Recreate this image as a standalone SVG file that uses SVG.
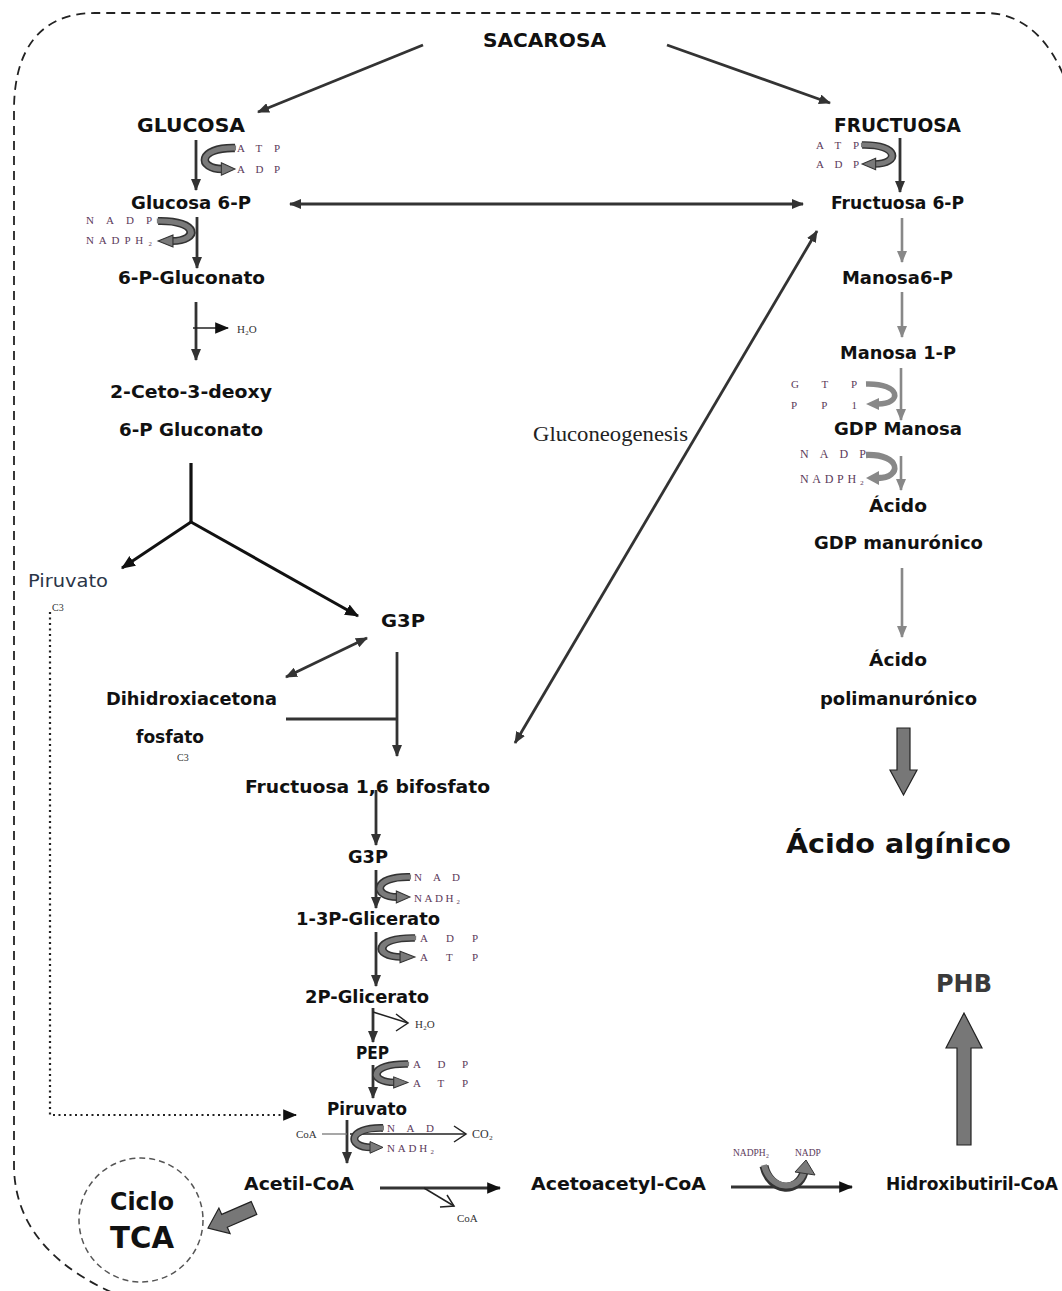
<svg xmlns="http://www.w3.org/2000/svg" xmlns:xlink="http://www.w3.org/1999/xlink" width="1062" height="1291" viewBox="0 0 1062 1291">
<style>
.n{font-family:"DejaVu Sans","Liberation Sans",sans-serif;font-weight:bold;font-size:17px;fill:#111}
.big{font-size:20px}
.cf{font-family:"Liberation Serif","DejaVu Serif",serif;font-size:11px;fill:#5b3a5a}
.sm{font-family:"Liberation Serif","DejaVu Serif",serif;font-size:11px;fill:#333}
.ln{stroke:#333;stroke-width:2.8;fill:none}
.gl{stroke:#888;stroke-width:2.6;fill:none}
.thin{stroke:#222;stroke-width:1.5;fill:none}
.blk{fill:#777;stroke:#222;stroke-width:1.2}
.cb{stroke:#333;stroke-width:8;fill:none}
.cc{stroke:#7a7a7a;stroke-width:5;fill:none}
.cg{stroke:#888;stroke-width:5.5;fill:none}
</style>
<defs>
<marker id="ah" viewBox="0 0 12 10" refX="11" refY="5" markerWidth="12" markerHeight="10" markerUnits="userSpaceOnUse" orient="auto-start-reverse"><path d="M0,0 L12,5 L0,10 z" fill="#333"/></marker>
<marker id="ahb" viewBox="0 0 12 10" refX="11" refY="5" markerWidth="14" markerHeight="12" markerUnits="userSpaceOnUse" orient="auto-start-reverse"><path d="M0,0 L12,5 L0,10 z" fill="#111"/></marker>
<marker id="ahg" viewBox="0 0 12 10" refX="11" refY="5" markerWidth="12" markerHeight="10" markerUnits="userSpaceOnUse" orient="auto"><path d="M0,0 L12,5 L0,10 z" fill="#888"/></marker>
<g id="cur">
<path class="cb" d="M0,0 C-36,-1 -36,20 -12,20"/>
<path class="cc" d="M1,0 C-36,-1 -36,20 -12,20"/>
<polygon points="-13,14 0,20 -13,26" fill="#7a7a7a" stroke="#333" stroke-width="1"/>
</g>
<g id="curg">
<path class="cg" d="M0,0 C-36,-1 -36,20 -12,20"/>
<polygon points="-13,14 0,20 -13,26" fill="#888"/>
</g>
</defs>
<rect width="1062" height="1291" fill="#fff"/>
<path id="border" d="M125,1298 C60,1272 14,1230 14,1165 L14,110 C14,50 40,13 95,13 L985,13 C1030,13 1060,50 1075,110" fill="none" stroke="#222" stroke-width="1.8" stroke-dasharray="9 6"/>

<g id="connectors">
<line class="ln" x1="423" y1="45" x2="258" y2="112" marker-end="url(#ah)"/>
<line class="ln" x1="667" y1="45" x2="830" y2="103" marker-end="url(#ah)"/>
<line class="ln" x1="196" y1="140" x2="196" y2="190" marker-end="url(#ah)"/>
<line class="ln" x1="290" y1="204" x2="803" y2="204" marker-start="url(#ah)" marker-end="url(#ah)"/>
<line class="ln" x1="197" y1="217" x2="197" y2="268" marker-end="url(#ah)"/>
<line class="ln" x1="196" y1="302" x2="196" y2="360" marker-end="url(#ah)"/>
<line class="thin" x1="193" y1="328" x2="228" y2="328" marker-end="url(#ahb)"/>
<polyline points="191,463 191,522" fill="none" stroke="#111" stroke-width="3.2"/>
<line x1="191" y1="522" x2="122" y2="568" stroke="#111" stroke-width="3" marker-end="url(#ahb)"/>
<line x1="191" y1="522" x2="358" y2="616" stroke="#111" stroke-width="3" marker-end="url(#ahb)"/>
<line class="ln" x1="286" y1="677" x2="367" y2="638" marker-start="url(#ah)" marker-end="url(#ah)"/>
<line class="ln" x1="397" y1="652" x2="397" y2="756" marker-end="url(#ah)"/>
<line class="ln" x1="286" y1="719" x2="397" y2="719"/>
<line class="ln" x1="515" y1="743" x2="817" y2="231" marker-start="url(#ah)" marker-end="url(#ah)"/>
<line class="ln" x1="376" y1="790" x2="376" y2="845" marker-end="url(#ah)"/>
<line class="ln" x1="376" y1="870" x2="376" y2="908" marker-end="url(#ah)"/>
<line class="ln" x1="376" y1="932" x2="376" y2="986" marker-end="url(#ah)"/>
<line class="ln" x1="373" y1="1008" x2="373" y2="1042" marker-end="url(#ah)"/>
<polyline class="thin" points="373,1012 408,1023"/>
<polyline class="thin" points="396,1014 408,1023 396,1031"/>
<line class="ln" x1="373" y1="1065" x2="373" y2="1098" marker-end="url(#ah)"/>
<line class="ln" x1="347" y1="1120" x2="347" y2="1163" marker-end="url(#ah)"/>
<line x1="322" y1="1134" x2="347" y2="1134" stroke="#777" stroke-width="1.3"/>
<line class="thin" x1="350" y1="1134" x2="466" y2="1134"/>
<polyline class="thin" points="454,1126 466,1134 454,1142"/>
<polyline points="50,612 50,1115 296,1115" fill="none" stroke="#222" stroke-width="2.2" stroke-dasharray="2 3.5" marker-end="url(#ahb)"/>
<line x1="380" y1="1188" x2="500" y2="1188" stroke="#333" stroke-width="3" marker-end="url(#ahb)"/>
<polyline class="thin" points="424,1188 454,1206"/>
<polyline class="thin" points="440,1207 454,1206 447,1195"/>
<line x1="731" y1="1187" x2="852" y2="1187" stroke="#333" stroke-width="3" marker-end="url(#ahb)"/>
<path d="M764,1166 C770,1192 798,1194 804,1172" fill="none" stroke="#333" stroke-width="9"/>
<path d="M764,1165 C770,1190 798,1192 804,1172" fill="none" stroke="#7a7a7a" stroke-width="6"/>
<polygon points="795,1172 806,1160 815,1175" fill="#7a7a7a" stroke="#333" stroke-width="1"/>
<polygon class="blk" points="256.8,1214.4 227.3,1227.2 230.1,1233.6 208,1228 218.9,1208 221.7,1214.4 251.2,1201.6"/>
<line class="ln" x1="900" y1="138" x2="900" y2="192" marker-end="url(#ah)"/>
<line class="gl" x1="902" y1="218" x2="902" y2="262" marker-end="url(#ahg)"/>
<line class="gl" x1="902" y1="292" x2="902" y2="337" marker-end="url(#ahg)"/>
<line class="gl" x1="901" y1="368" x2="901" y2="420" marker-end="url(#ahg)"/>
<line class="gl" x1="901" y1="456" x2="901" y2="490" marker-end="url(#ahg)"/>
<line class="gl" x1="902" y1="568" x2="902" y2="637" marker-end="url(#ahg)"/>
<polygon class="blk" points="897,728 910,728 910,770 917,770 903.5,795 890,770 897,770"/>
<polygon class="blk" points="957,1145 971,1145 971,1048 982,1048 964,1013 946,1048 957,1048"/>
<use href="#cur" transform="translate(235,148) scale(1.05,1.05)"/>
<use href="#cur" transform="translate(158,221) scale(-1.15,1)"/>
<use href="#cur" transform="translate(862,145) scale(-1.05,0.95)"/>
<use href="#curg" transform="translate(866,384) scale(-1,1)"/>
<use href="#curg" transform="translate(866,455) scale(-1,1.15)"/>
<use href="#cur" transform="translate(410,877) scale(1.05,1)"/>
<use href="#cur" transform="translate(415,938) scale(1.15,0.95)"/>
<use href="#cur" transform="translate(408,1064) scale(1.1,0.92)"/>
<use href="#cur" transform="translate(383,1128) scale(1,0.97)"/>
<circle cx="141" cy="1220" r="62" fill="none" stroke="#555" stroke-width="1.5" stroke-dasharray="6 4"/>
</g>

<g id="sacarosa"><text class="n big" x="483" y="47" textLength="123" lengthAdjust="spacingAndGlyphs">SACAROSA</text></g>
<g id="glucosa"><text class="n big" x="137" y="132" textLength="108" lengthAdjust="spacingAndGlyphs">GLUCOSA</text>
<text class="cf" x="237" y="152" textLength="43">ATP</text><text class="cf" x="237" y="173" textLength="43">ADP</text></g>
<g id="fructuosa"><text class="n big" x="834" y="132" textLength="127" lengthAdjust="spacingAndGlyphs">FRUCTUOSA</text>
<text class="cf" x="816" y="149" textLength="43">ATP</text><text class="cf" x="816" y="168" textLength="43">ADP</text></g>
<g id="glucosa6p"><text class="n" x="131" y="209" textLength="120" lengthAdjust="spacingAndGlyphs">Glucosa 6-P</text>
<text class="cf" x="86" y="224" textLength="66">NADP</text><text class="cf" x="86" y="244" textLength="66">NADPH₂</text></g>
<g id="fructuosa6p"><text class="n" x="831" y="209" textLength="133" lengthAdjust="spacingAndGlyphs">Fructuosa 6-P</text></g>
<g id="gluconato"><text class="n" x="118" y="284" textLength="147" lengthAdjust="spacingAndGlyphs">6-P-Gluconato</text>
<text class="sm" x="237" y="333">H₂O</text></g>
<g id="ceto"><text class="n" x="110" y="398" textLength="162" lengthAdjust="spacingAndGlyphs">2-Ceto-3-deoxy</text>
<text class="n" x="119" y="436" textLength="144" lengthAdjust="spacingAndGlyphs">6-P Gluconato</text></g>
<g id="piruvato1"><text x="28" y="587" font-family="DejaVu Sans, sans-serif" font-size="18" fill="#2a3548" textLength="80" lengthAdjust="spacingAndGlyphs">Piruvato</text>
<text class="sm" x="52" y="611" style="font-size:10px">C3</text></g>
<g id="g3p1"><text class="n" x="381" y="627" textLength="44" lengthAdjust="spacingAndGlyphs">G3P</text></g>
<g id="dhap"><text class="n" x="106" y="705" textLength="171" lengthAdjust="spacingAndGlyphs">Dihidroxiacetona</text>
<text class="n" x="136" y="743" textLength="68" lengthAdjust="spacingAndGlyphs">fosfato</text>
<text class="sm" x="177" y="761" style="font-size:10px">C3</text></g>
<g id="gluconeogenesis"><text x="533" y="441" font-family="Liberation Serif, serif" font-size="21" fill="#222" textLength="155" lengthAdjust="spacingAndGlyphs">Gluconeogenesis</text></g>
<g id="f16bp"><text class="n" x="245" y="793" textLength="245" lengthAdjust="spacingAndGlyphs">Fructuosa 1,6 bifosfato</text></g>
<g id="g3p2"><text class="n" x="348" y="863" textLength="40" lengthAdjust="spacingAndGlyphs">G3P</text>
<text class="cf" x="414" y="881" textLength="46">NAD</text><text class="cf" x="414" y="902" textLength="46">NADH₂</text></g>
<g id="bpg"><text class="n" x="296" y="925" textLength="144" lengthAdjust="spacingAndGlyphs">1-3P-Glicerato</text>
<text class="cf" x="420" y="942" textLength="58">ADP</text><text class="cf" x="420" y="961" textLength="58">ATP</text></g>
<g id="pg2"><text class="n" x="305" y="1003" textLength="124" lengthAdjust="spacingAndGlyphs">2P-Glicerato</text>
<text class="sm" x="415" y="1028">H₂O</text></g>
<g id="pep"><text class="n" x="356" y="1059" textLength="33" lengthAdjust="spacingAndGlyphs">PEP</text>
<text class="cf" x="413" y="1068" textLength="55">ADP</text><text class="cf" x="413" y="1087" textLength="55">ATP</text></g>
<g id="piruvato2"><text class="n" x="327" y="1115" textLength="80" lengthAdjust="spacingAndGlyphs">Piruvato</text>
<text class="cf" x="387" y="1132" textLength="47">NAD</text><text class="cf" x="387" y="1152" textLength="47">NADH₂</text>
<text class="sm" x="296" y="1138">CoA</text><text class="sm" x="472" y="1138" style="font-size:12px">CO₂</text></g>
<g id="acetilcoa"><text class="n" x="244" y="1190" textLength="110" lengthAdjust="spacingAndGlyphs">Acetil-CoA</text>
<text class="sm" x="457" y="1222">CoA</text></g>
<g id="tca"><text class="n" x="110" y="1210" style="font-size:24px" textLength="64" lengthAdjust="spacingAndGlyphs">Ciclo</text>
<text class="n" x="110" y="1248" style="font-size:30px" textLength="64" lengthAdjust="spacingAndGlyphs">TCA</text></g>
<g id="acetoacetyl"><text class="n" x="531" y="1190" textLength="175" lengthAdjust="spacingAndGlyphs">Acetoacetyl-CoA</text>
<text class="cf" x="733" y="1156" style="font-size:9.5px">NADPH₂</text><text class="cf" x="795" y="1156" style="font-size:9.5px">NADP</text></g>
<g id="hidroxibutiril"><text class="n" x="886" y="1190" textLength="172" lengthAdjust="spacingAndGlyphs">Hidroxibutiril-CoA</text></g>
<g id="phb"><text class="n" x="936" y="992" style="font-size:25px;fill:#3a3a3a" textLength="56" lengthAdjust="spacingAndGlyphs">PHB</text></g>
<g id="manosa6p"><text class="n" x="842" y="284" textLength="111" lengthAdjust="spacingAndGlyphs">Manosa6-P</text></g>
<g id="manosa1p"><text class="n" x="840" y="359" textLength="116" lengthAdjust="spacingAndGlyphs">Manosa 1-P</text>
<text class="cf" x="791" y="388" textLength="66">GTP</text><text class="cf" x="791" y="409" textLength="66">PP1</text></g>
<g id="gdpmanosa"><text class="n" x="834" y="435" textLength="128" lengthAdjust="spacingAndGlyphs">GDP Manosa</text>
<text class="cf" x="800" y="458" style="font-size:12px" textLength="66">NADP</text><text class="cf" x="800" y="483" style="font-size:12px" textLength="64">NADPH₂</text></g>
<g id="gdpmanuronico"><text class="n" x="869" y="512" textLength="58" lengthAdjust="spacingAndGlyphs">Ácido</text>
<text class="n" x="814" y="549" textLength="169" lengthAdjust="spacingAndGlyphs">GDP manurónico</text></g>
<g id="polimanuronico"><text class="n" x="869" y="666" textLength="58" lengthAdjust="spacingAndGlyphs">Ácido</text>
<text class="n" x="820" y="705" textLength="157" lengthAdjust="spacingAndGlyphs">polimanurónico</text></g>
<g id="alginico"><text class="n" x="786" y="853" style="font-size:27px" textLength="225" lengthAdjust="spacingAndGlyphs">Ácido algínico</text></g>
</svg>
